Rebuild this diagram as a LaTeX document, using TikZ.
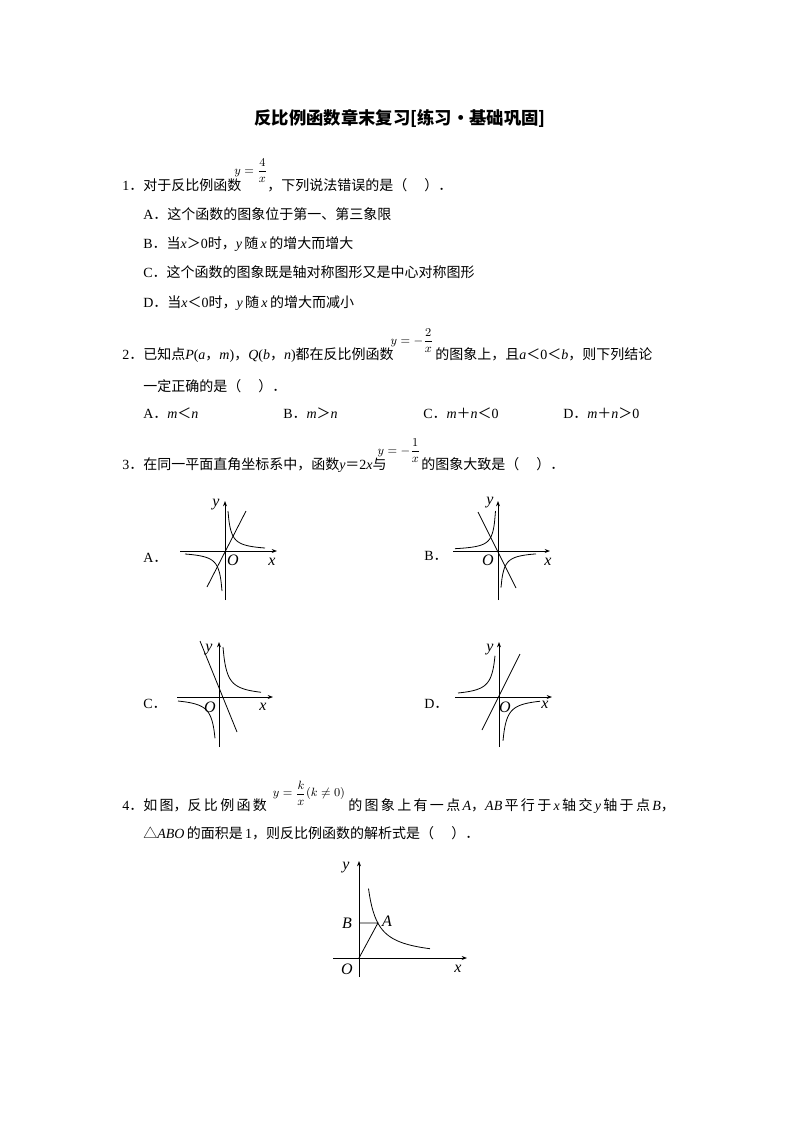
\documentclass[tikz,border=0pt]{standalone}
\usepackage{amsmath}
\usepackage{fontspec}
\setmainfont{Liberation Serif}
\newfontfamily\cjk{Noto Sans CJK SC}
\usetikzlibrary{arrows.meta}
\newcommand{\zh}[1]{{\cjk #1}}
\newcommand{\iv}[1]{\textit{#1}}
\newcommand{\pd}{\zh{．}}
\begin{document}
\begin{tikzpicture}[x=0.75pt,y=-0.75pt,
  txt/.style={anchor=base west,inner sep=0,font=\fontsize{10.5pt}{12pt}\selectfont},
  frac/.style={inner sep=0,font=\fontsize{9.5pt}{11pt}\selectfont},
  ax/.style={line width=0.6pt,-{Stealth[length=4pt,width=3pt]}},
  cv/.style={line width=0.6pt},
  lab/.style={inner sep=0,font=\fontsize{12pt}{12pt}\selectfont\itshape}]
\useasboundingbox (0,0) rectangle (800,1132);
\node[inner sep=0,font=\fontsize{13pt}{15pt}\selectfont\bfseries\cjk] (title) at (400,118) {反比例函数章末复习[练习·基础巩固]};
% Q1
\node[txt] (q1) at (122,190) {1\pd\zh{对于反比例函数}};
\node[frac] (f1) at (251,171) {$y=\dfrac{4}{x}$};
\node[txt] (q1b) at (267,190) {\zh{，下列说法错误的是（\quad\ ）．}};
\node[txt] (q1A) at (143,219) {A\pd\zh{这个函数的图象位于第一、第三象限}};
\node[txt] (q1B) at (143,248) {B\pd\zh{当}\iv{x}\zh{＞}0\zh{时，}\iv{y}\,\zh{随}\,\iv{x}\,\zh{的增大而增大}};
\node[txt] (q1C) at (143,277) {C\pd\zh{这个函数的图象既是轴对称图形又是中心对称图形}};
\node[txt] (q1D) at (143,307) {D\pd\zh{当}\iv{x}\zh{＜}0\zh{时，}\iv{y}\,\zh{随}\,\iv{x}\,\zh{的增大而减小}};
% Q2
\node[txt] (q2) at (122,359) {2\pd\zh{已知点}\iv{P}(\iv{a}\zh{，}\iv{m})\zh{，}\iv{Q}(\iv{b}\zh{，}\iv{n})\zh{都在反比例函数}};
\node[frac] (f2) at (412,341) {$y=-\dfrac{2}{x}$};
\node[txt] (q2b) at (435,359) {\zh{的图象上，且}\iv{a}\zh{＜}0\zh{＜}\iv{b}\zh{，则下列结论}};
\node[txt] (q2c) at (143,391) {\zh{一定正确的是（\quad\ ）．}};
\node[txt] (o2A) at (143,418) {A\pd\iv{m}\zh{＜}\iv{n}};
\node[txt] (o2B) at (283,418) {B\pd\iv{m}\zh{＞}\iv{n}};
\node[txt] (o2C) at (423,418) {C\pd\iv{m}\zh{＋}\iv{n}\zh{＜}0};
\node[txt] (o2D) at (563,418) {D\pd\iv{m}\zh{＋}\iv{n}\zh{＞}0};
% Q3
\node[txt] (q3) at (122,469) {3\pd\zh{在同一平面直角坐标系中，函数}\iv{y}\zh{＝}2\iv{x}\zh{与}};
\node[frac] (f3) at (399,451) {$y=-\dfrac{1}{x}$};
\node[txt] (q3b) at (421,469) {\zh{的图象大致是（\quad\ ）．}};
\node[txt] (lA) at (143,562) {A\pd};
\node[txt] (lB) at (424,560) {B\pd};
\node[txt] (lC) at (143,708) {C\pd};
\node[txt] (lD) at (424,708) {D\pd};
% graph A
\begin{scope}[shift={(225,551)},yscale=-1]
\draw[ax] (-45,0) -- (52,0); \draw[ax] (0,-49) -- (0,50);
\draw[cv] (-18,-36) -- (21,40);
\draw[cv] plot[domain=3:40,samples=40,smooth] (\x,{120/\x});
\draw[cv] plot[domain=-40:-3,samples=40,smooth] (\x,{120/\x});
\node[lab] (yA) at (-9,46) {y}; \node[lab] (oA) at (8,-9) {O}; \node[lab] (xA) at (47,-11) {x};
\end{scope}
% graph B
\begin{scope}[shift={(498,551)},yscale=-1]
\draw[ax] (-45,0) -- (52,0); \draw[ax] (0,-49) -- (0,50);
\draw[cv] (-20,39) -- (18,-37);
\draw[cv] plot[domain=-43:-2.5,samples=40,smooth] (\x,{-100/\x});
\draw[cv] plot[domain=3:38,samples=40,smooth] (\x,{-110/\x});
\node[lab] (yB) at (-8,48) {y}; \node[lab] (oB) at (-10,-9) {O}; \node[lab] (xB) at (50,-11) {x};
\end{scope}
% graph C
\begin{scope}[shift={(219,697)},yscale=-1]
\draw[ax] (-42,0) -- (54,0); \draw[ax] (0,-50) -- (0,55);
\draw[cv] (-19,56) -- (18,-35);
\draw[cv] plot[domain=4:42,samples=40,smooth] (\x,{200/\x});
\draw[cv] plot[domain=-41:-4,samples=40,smooth] (\x,{165/\x});
\node[lab] (yC) at (-10,47) {y}; \node[lab] (oC) at (-9,-10) {O}; \node[lab] (xC) at (44,-10) {x};
\end{scope}
% graph D
\begin{scope}[shift={(499,697)},yscale=-1]
\draw[ax] (-44,0) -- (53,0); \draw[ax] (0,-50) -- (0,55);
\draw[cv] (-17,-33) -- (21,43);
\draw[cv] plot[domain=-41:-4,samples=40,smooth] (\x,{-165/\x});
\draw[cv] plot[domain=4:41,samples=40,smooth] (\x,{-175/\x});
\node[lab] (yD) at (-9,47) {y}; \node[lab] (oD) at (6,-10) {O}; \node[lab] (xD) at (46,-8) {x};
\end{scope}
% Q4
\node[txt] (q4) at (122,810) {4\pd\zh{如\,图，反\,比\,例\,函\,数}};
\node[frac] (f4) at (309,793) {$y=\dfrac{k}{x}(k\neq0)$};
\node[txt] (q4b) at (348,810) {\zh{的\,图\,象\,上\,有\,一\,点}\,\iv{A}\zh{，}\iv{AB}\,\zh{平\,行\,于}\,\iv{x}\,\zh{轴\,交}\,\iv{y}\,\zh{轴\,于\,点}\,\iv{B}\zh{，}};
\node[txt] (q4c) at (143,838) {\zh{△}\iv{ABO}\,\zh{的面积是}\,1\zh{，则反比例函数的解析式是（\quad\ ）．}};
\begin{scope}[shift={(359,958)},yscale=-1]
\draw[ax] (-26,0) -- (108,0); \draw[ax] (0,-19) -- (0,97);
\coordinate (O) at (0,0); \coordinate (B) at (0,35); \coordinate (A) at (18.9,35);
\draw[cv] plot[domain=9.5:71,samples=50,smooth] (\x,{660/\x});
\draw[cv] (B) -- (A) -- (O);
\node[lab] (yE) at (-13,90) {y}; \node[lab] (Bl) at (-12,35) {B}; \node[lab] (Al) at (28,37) {A};
\node[lab] (Ol) at (-12,-11) {O}; \node[lab] (xE) at (99,-11) {x};
\end{scope}
\end{tikzpicture}
\end{document}
